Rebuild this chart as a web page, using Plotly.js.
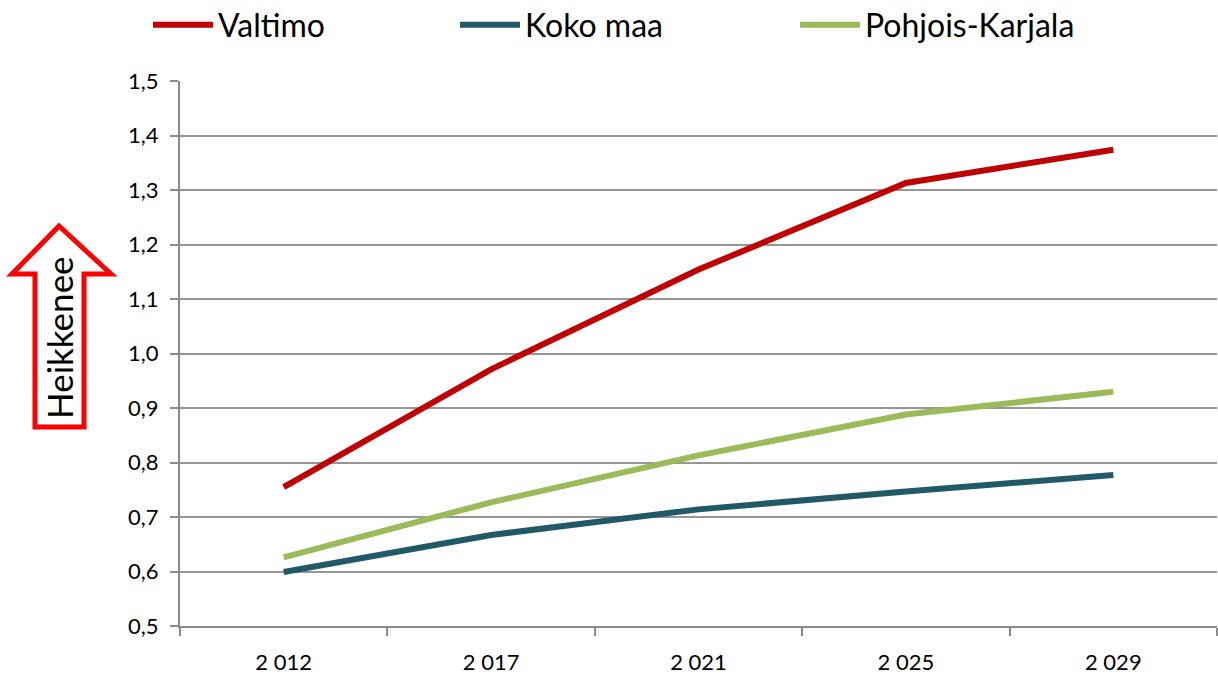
<!DOCTYPE html>
<html>
<head>
<meta charset="utf-8">
<script src="https://cdn.plot.ly/plotly-3.0.1.min.js"></script>
<style>html,body{margin:0;padding:0;background:#fff;}#chart{width:1218px;height:675px;}</style>
</head>
<body>
<div id="chart"></div>
<script>
var years = ["2 012", "2 017", "2 021", "2 025", "2 029"];
var valtimo = [0.755, 0.971, 1.154, 1.313, 1.374];
var kokoMaa = [0.599, 0.667, 0.714, 0.747, 0.777];
var pohjoisKarjala = [0.626, 0.727, 0.813, 0.888, 0.930];
var seriesNames = ["Valtimo", "Koko maa", "Pohjois-Karjala"];
var yTicks = [0.5, 0.6, 0.7, 0.8, 0.9, 1.0, 1.1, 1.2, 1.3, 1.4, 1.5];
var arrowLabel = "Heikkenee";

var W = 1218, H = 675;
var L = 180, R = 1217, T = 81, B = 626;
function px(x){ return (x - L) / (R - L); }
function py(y){ return (B - y) / (B - T); }

var font = "Lato, 'Open Sans', sans-serif";

var traces = [
  {x: years, y: valtimo, name: seriesNames[0], type: "scatter", mode: "lines",
   line: {color: "#C00000", width: 6}, legend: "legend"},
  {x: years, y: kokoMaa, name: seriesNames[1], type: "scatter", mode: "lines",
   line: {color: "#215968", width: 6}, legend: "legend2"},
  {x: years, y: pohjoisKarjala, name: seriesNames[2], type: "scatter", mode: "lines",
   line: {color: "#9BBB59", width: 6}, legend: "legend3"}
];

var legBase = {orientation: "h", xref: "container", yref: "container", yanchor: "middle",
  y: 1 - 25 / H, font: {family: font, size: 32, color: "#000"}, itemwidth: 60,
  bgcolor: "rgba(0,0,0,0)", tracegroupgap: 0};

var pts = [[59,226],[111,274],[84,274],[84,427],[35,427],[35,274],[12,274]];
var path = pts.map(function(p, i){ return (i ? "L" : "M") + px(p[0]) + "," + py(p[1]); }).join(" ") + " Z";

var layout = {
  width: W, height: H,
  margin: {l: L, r: W - R, t: T, b: H - B},
  paper_bgcolor: "#fff", plot_bgcolor: "#fff",
  separators: ", ",
  showlegend: true,
  legend: Object.assign({}, legBase, {x: 148 / W}),
  legend2: Object.assign({}, legBase, {x: 455 / W}),
  legend3: Object.assign({}, legBase, {x: 795 / W}),
  xaxis: {
    type: "category", range: [-0.5, 4.5], tickson: "boundaries",
    showgrid: false, showline: true, linecolor: "#8c8c8c", linewidth: 2,
    ticks: "outside", ticklen: 8, tickcolor: "#8c8c8c", tickwidth: 2,
    tickfont: {family: font, size: 22, color: "#000"}, zeroline: false,
    ticklabelstandoff: 16, fixedrange: true
  },
  yaxis: {
    range: [0.5, 1.5], tickvals: yTicks, tickformat: ".1f",
    showgrid: true, gridcolor: "#969696", gridwidth: 2,
    showline: true, linecolor: "#8c8c8c", linewidth: 2,
    ticks: "outside", ticklen: 8, tickcolor: "#8c8c8c", tickwidth: 2,
    tickfont: {family: font, size: 22, color: "#000"}, zeroline: false,
    ticklabelstandoff: 7, fixedrange: true
  },
  shapes: [{type: "path", xref: "paper", yref: "paper", path: path,
    line: {color: "#FF0000", width: 5}, fillcolor: "#fff", layer: "above"}],
  annotations: [{xref: "paper", yref: "paper", x: px(59), y: py(338),
    text: arrowLabel, textangle: -90, showarrow: false,
    font: {family: font, size: 35, color: "#000"}, xanchor: "center", yanchor: "middle"}]
};

Plotly.newPlot("chart", traces, layout, {displayModeBar: false, staticPlot: true});
</script>
</body>
</html>
